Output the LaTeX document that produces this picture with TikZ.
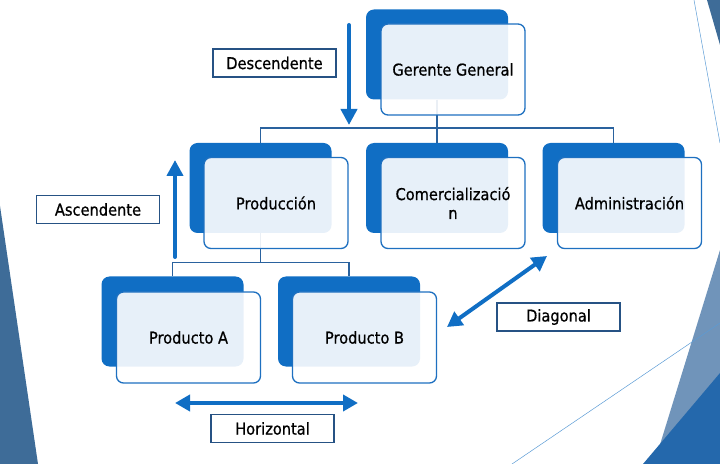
\documentclass[tikz,border=0pt]{standalone}
\usepackage{fontspec}
\usepackage{tikz}
\usetikzlibrary{arrows.meta}
\newfontfamily\orgfont{DejaVu Sans}[FakeStretch=0.9,FakeBold=0.7]
\definecolor{orgblue}{RGB}{16,110,196}
\definecolor{edgeblue}{RGB}{30,112,192}
\definecolor{linkblue}{RGB}{42,98,158}
\definecolor{tagedge}{RGB}{38,82,132}
\definecolor{steel}{RGB}{62,108,152}
\definecolor{steellight}{RGB}{112,148,186}
\definecolor{deepblue}{RGB}{36,104,172}
\definecolor{thinline}{RGB}{91,155,213}

\begin{document}
\begin{tikzpicture}[x=1bp, y=-1bp,
    every node/.style={font=\orgfont\fontsize{16.3}{19}\selectfont},
    back/.style={fill=orgblue, rounded corners=8bp, minimum width=142bp, minimum height=90bp, inner sep=0pt},
    front/.style={draw=edgeblue, line width=1.3bp, fill=white, fill opacity=0.9, text opacity=1,
        rounded corners=7bp, minimum width=144bp, minimum height=91bp, align=center, inner sep=0pt},
    link/.style={draw=linkblue, line width=1.5bp},
    flow/.style={draw=orgblue, line width=4bp, line cap=round},
    tag/.style={draw=tagedge, line width=1.5bp, fill=white, minimum width=123bp, minimum height=28bp, inner sep=0pt}]
    \useasboundingbox (0,0) rectangle (720,464);

    % Slide background
    \fill[steel] (0,206) -- (38,464) -- (0,464) -- cycle;
    \fill[steel] (707,0) -- (720,0) -- (720,45) -- cycle;
    \fill[steellight] (720,250) -- (654,464) -- (720,464) -- cycle;
    \fill[deepblue] (643,464) -- (720,373) -- (720,464) -- cycle;
    \draw[thinline, line width=0.5bp] (694,0) -- (720,143);
    \draw[thinline, line width=0.5bp] (512,464) -- (720,323);

    % Back boxes
    \node[back] (gerenteB) at (437,54.5) {};
    \node[back] (produccionB) at (260.5,188) {};
    \node[back] (comercialB) at (437,188) {};
    \node[back] (adminB) at (613.5,188) {};
    \node[back] (productoAB) at (172.5,321.5) {};
    \node[back] (productoBB) at (349,321.5) {};

    % Org chart lines
    \draw[link] (gerenteB.south) -- (comercialB.north);
    \draw[link] (produccionB.north) -- ++(0,-15) -| (adminB.north);
    \draw[link] (produccionB.south) -- ++(0,30);
    \draw[link] (productoAB.north) -- ++(0,-14) -| (productoBB.north);

    % Front boxes
    \node[front] (gerente) at (453,69.5) {Gerente General};
    \node[front] (produccion) at (276,203) {Producción};
    \node[front] (comercial) at (453,203) {Comercializació\\n};
    \node[front] (admin) at (629.5,203) {Administración};
    \node[front] (productoA) at (188.5,337.5) {Producto A};
    \node[front] (productoB) at (364.5,337.5) {Producto B};

    % Communication arrows
    \coordinate (dTop) at (349,25);
    \coordinate (dBot) at (349,125);
    \coordinate (aBot) at (175,257);
    \coordinate (aTop) at (175,160);
    \coordinate (hLeft) at (175,403);
    \coordinate (hRight) at (358,403);
    \coordinate (gLow) at (447,327);
    \coordinate (gHigh) at (547,256);
    \draw[flow, -{Triangle[width=16bp,length=16bp]}] (dTop) -- (dBot);
    \draw[flow, -{Triangle[width=16bp,length=16bp]}] (aBot) -- (aTop);
    \draw[flow, {Triangle[width=16bp,length=15bp]}-{Triangle[width=16bp,length=15bp]}] (hLeft) -- (hRight);
    \draw[flow, {Triangle[width=16bp,length=15bp]}-{Triangle[width=16bp,length=15bp]}] (gLow) -- (gHigh);

    % Labels
    \node[tag] (descendente) at (274.5,63) {Descendente};
    \node[tag] (ascendente) at (98,209.5) {Ascendente};
    \node[tag] (horizontal) at (272.5,428.5) {Horizontal};
    \node[tag] (diagonal) at (558.5,317) {Diagonal};
\end{tikzpicture}
\end{document}
